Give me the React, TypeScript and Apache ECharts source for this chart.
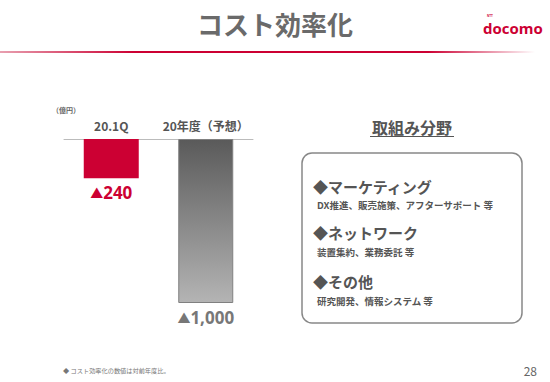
import React, { useEffect, useRef } from "react";
import * as echarts from "echarts";

const categories = ["20.1Q", "20年度（予想）"];
const reductions = [240, 1000];
const areaTitle = "取組み分野";
const areaHeads = ["◆マーケティング", "◆ネットワーク", "◆その他"];
const areaDetails = [
  "DX推進、販売施策、アフターサポート 等",
  "装置集約、業務委託 等",
  "研究開発、情報システム 等",
];

const JP = '"Noto Sans CJK JP", "Noto Sans", sans-serif';

export default function App() {
  const ref = useRef<HTMLDivElement>(null);
  useEffect(() => {
    document.body.style.margin = "0";
    const chart = echarts.init(ref.current!, null, { renderer: "svg" });
    const headY = [186, 232, 281];
    const detY = [205, 252, 301];
    const graphics: any[] = [
      {
        type: "text",
        left: "center",
        top: 10,
        style: { text: "コスト効率化", fill: "#6a6a6a", font: `bold 26px ${JP}` },
      },
      {
        type: "rect",
        shape: { x: 0, y: 51, width: 535, height: 2 },
        style: {
          fill: new echarts.graphic.LinearGradient(0, 0, 1, 0, [
            { offset: 0, color: "#e8a0b0" },
            { offset: 0.25, color: "#cc0033" },
            { offset: 0.8, color: "#cc0033" },
            { offset: 1, color: "#ffffff" },
          ]),
        },
      },
      {
        type: "text",
        x: 483,
        y: 28,
        style: {
          text: "docomo",
          fill: "#cc0033",
          font: `bold 15px "Open Sans", sans-serif`,
          verticalAlign: "middle",
        },
      },
      {
        type: "text",
        x: 487,
        y: 14,
        style: { text: "NTT", fill: "#cc0033", font: `bold 3px sans-serif` },
      },
      {
        type: "text",
        x: 52,
        y: 106,
        style: { text: "（億円）", fill: "#666", font: `bold 7px ${JP}` },
      },
      {
        type: "text",
        x: 412,
        y: 127,
        style: {
          text: areaTitle,
          fill: "#555",
          font: `bold 16px ${JP}`,
          align: "center",
          verticalAlign: "middle",
        },
      },
      {
        type: "rect",
        shape: { x: 370, y: 136, width: 84, height: 1 },
        style: { fill: "#555" },
      },
      {
        type: "rect",
        shape: { x: 302, y: 153, width: 220, height: 170, r: 10 },
        style: { fill: "#fff", stroke: "#888", lineWidth: 1.5 },
      },
      {
        type: "text",
        x: 63,
        y: 370,
        style: {
          text: "◆ コスト効率化の数値は対前年度比。",
          fill: "#777",
          font: `6.2px ${JP}`,
          verticalAlign: "middle",
        },
      },
      {
        type: "text",
        x: 537,
        y: 370,
        style: {
          text: "28",
          fill: "#666",
          font: `12px ${JP}`,
          align: "right",
          verticalAlign: "middle",
        },
      },
    ];
    areaHeads.forEach((h, i) => {
      graphics.push({
        type: "text",
        x: 313,
        y: headY[i],
        style: { text: h, fill: "#555", font: `bold 15px ${JP}`, verticalAlign: "middle" },
      });
      graphics.push({
        type: "text",
        x: 317,
        y: detY[i],
        style: {
          text: areaDetails[i],
          fill: "#555",
          font: `bold 9.5px ${JP}`,
          verticalAlign: "middle",
        },
      });
    });

    const colors = ["#cc0033", "#777777"];
    chart.setOption({
      animation: false,
      grid: { left: 64, right: 297, top: 139, height: 164 },
      xAxis: {
        type: "category",
        position: "top",
        data: categories,
        axisLine: { lineStyle: { color: "#bbb", width: 1 } },
        axisTick: { show: false },
        axisLabel: {
          interval: 0,
          color: "#555",
          fontSize: 12,
          fontWeight: "bold",
          fontFamily: JP,
          margin: 8,
        },
      },
      yAxis: {
        type: "value",
        min: 0,
        max: 1000,
        inverse: true,
        show: false,
        splitLine: { show: false },
      },
      series: [
        {
          type: "bar",
          barWidth: 55,
          data: reductions.map((v, i) => ({
            value: v,
            itemStyle:
              i === 0
                ? { color: "#cc0033" }
                : {
                    color: new echarts.graphic.LinearGradient(0, 0, 0, 1, [
                      { offset: 0, color: "#5a5a5a" },
                      { offset: 1, color: "#b4b4b4" },
                    ]),
                    borderColor: "#808080",
                    borderWidth: 1,
                  },
            label: {
              show: true,
              position: "bottom",
              distance: 6,
              formatter: (p: any) =>
                `{t|▲}{n|${Number(p.value).toLocaleString("en-US")}}`,
              rich: {
                t: { color: colors[i], fontSize: 13, fontFamily: JP },
                n: {
                  color: colors[i],
                  fontSize: 17,
                  fontWeight: "bold",
                  fontFamily: '"Open Sans", sans-serif',
                },
              },
            },
          })),
        },
      ],
      graphic: graphics,
    });
    return () => chart.dispose();
  }, []);
  return <div ref={ref} style={{ width: 550, height: 382 }} />;
}
